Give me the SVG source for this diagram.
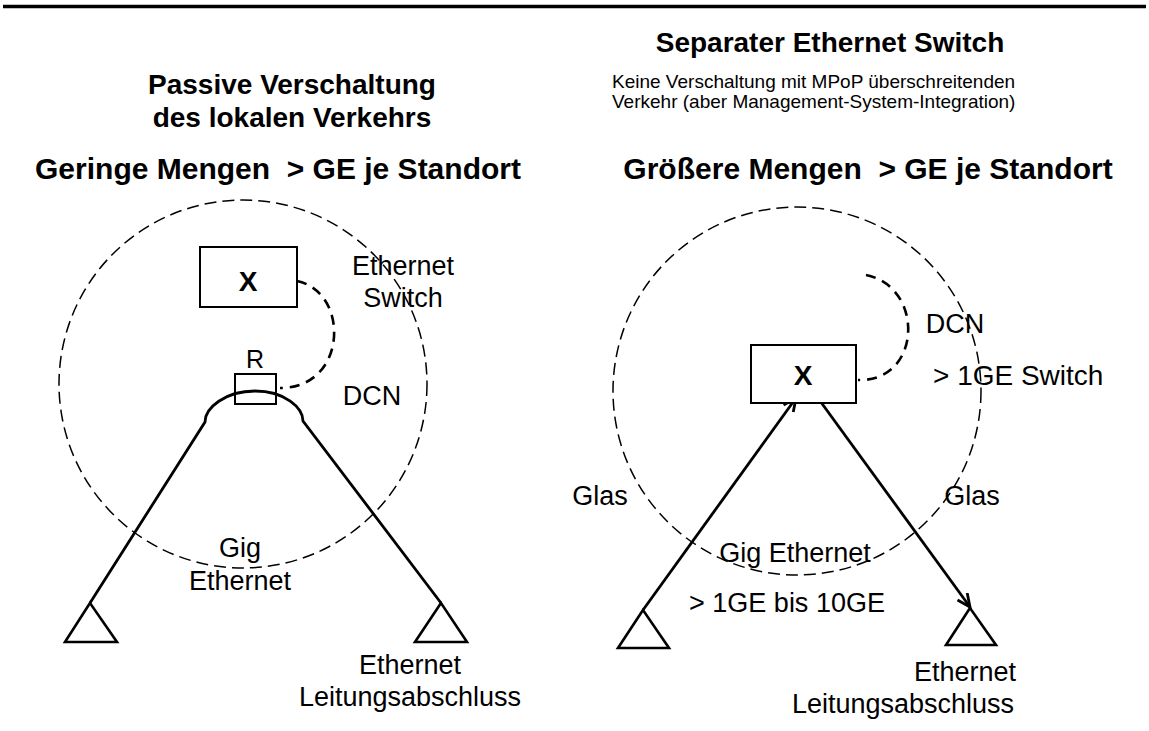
<svg xmlns="http://www.w3.org/2000/svg" width="1149" height="731" viewBox="0 0 1149 731">
<style>
text{font-family:"Liberation Sans",Arial,sans-serif;fill:#000}
.h{font-weight:bold;font-size:28px;text-anchor:middle}
.hb{font-weight:bold;font-size:30px;text-anchor:middle}
.l{font-size:27px;text-anchor:middle}
.s{font-size:19px}
.x{font-weight:bold;font-size:28px;text-anchor:middle}
.circ{fill:none;stroke:#000;stroke-width:1.5;stroke-dasharray:12 6}
.dcn{fill:none;stroke:#000;stroke-width:2.6;stroke-dasharray:10 7}
.ln{fill:none;stroke:#000;stroke-width:2.8}
.box{fill:#fff;stroke:#000;stroke-width:2}
.tri{fill:#fff;stroke:#000;stroke-width:2.6;stroke-linejoin:miter}
</style>
<defs>
<marker id="arr" markerUnits="userSpaceOnUse" markerWidth="20" markerHeight="20" refX="14" refY="7" orient="auto">
<path d="M1,1 L14,7 L1,13" fill="none" stroke="#000" stroke-width="2.8"/>
</marker>
</defs>
<line x1="3" y1="6.5" x2="1146" y2="6.5" stroke="#000" stroke-width="3.5"/>

<g id="headings">
<text class="h" x="292" y="94">Passive Verschaltung</text>
<text class="h" x="292" y="127">des lokalen Verkehrs</text>
<text class="h" x="830" y="52">Separater Ethernet Switch</text>
<text class="s" x="612" y="88">Keine Verschaltung mit MPoP überschreitenden</text>
<text class="s" x="612" y="108">Verkehr (aber Management-System-Integration)</text>
<text class="hb" x="278" y="179">Geringe Mengen &#160;&gt; GE je Standort</text>
<text class="hb" x="868" y="179">Größere Mengen &#160;&gt; GE je Standort</text>
</g>

<g id="left-zone">
<circle class="circ" cx="243" cy="384" r="184"/>
</g>
<g id="right-zone">
<circle class="circ" cx="797" cy="391" r="184"/>
</g>

<g id="connectors">
<path class="ln" d="M90,603 L205,422 C205,408 225,391 255,391 C285,391 303,408 303,421 L441,603"/>
<path class="dcn" d="M297,281 C350,292 348,388 280,388"/>
<path class="dcn" d="M866,275 C925,287 922,382 858,380"/>
<line class="ln" x1="643" y1="610" x2="796" y2="398" marker-end="url(#arr)"/>
<line class="ln" x1="815" y1="394" x2="970" y2="607" marker-end="url(#arr)"/>
</g>

<g id="left-switch">
<rect class="box" x="200" y="247" width="97" height="60"/>
<text class="x" x="248" y="291">X</text>
</g>
<g id="left-r">
<rect x="235" y="374" width="41" height="30" fill="none" stroke="#000" stroke-width="2"/>
<text class="l" x="255" y="368" style="font-size:25px">R</text>
</g>
<g id="left-term-a"><path class="tri" d="M90,603 L65,642 L117,642 Z"/></g>
<g id="left-term-b"><path class="tri" d="M441,603 L415,642 L467,642 Z"/></g>

<g id="right-switch">
<rect class="box" x="751" y="345" width="105" height="58"/>
<text class="x" x="803" y="385">X</text>
</g>
<g id="right-term-a"><path class="tri" d="M643,610 L618,648 L669,648 Z"/></g>
<g id="right-term-b"><path class="tri" d="M970,608 L946,645 L996,645 Z"/></g>

<g id="labels">
<text class="l" x="403" y="275">Ethernet</text>
<text class="l" x="403" y="307">Switch</text>
<text class="l" x="372" y="405">DCN</text>
<text class="l" x="240" y="557">Gig</text>
<text class="l" x="240" y="590">Ethernet</text>
<text class="l" x="410" y="674">Ethernet</text>
<text class="l" x="410" y="706">Leitungsabschluss</text>
<text class="l" x="955" y="333">DCN</text>
<text class="l" x="933" y="385" style="text-anchor:start;font-size:28px">&gt; 1GE Switch</text>
<text class="l" x="600" y="505">Glas</text>
<text class="l" x="972" y="505">Glas</text>
<text class="l" x="795" y="562">Gig Ethernet</text>
<text class="l" x="787" y="612">&gt; 1GE bis 10GE</text>
<text class="l" x="965" y="681">Ethernet</text>
<text class="l" x="903" y="713">Leitungsabschluss</text>
</g>
</svg>
